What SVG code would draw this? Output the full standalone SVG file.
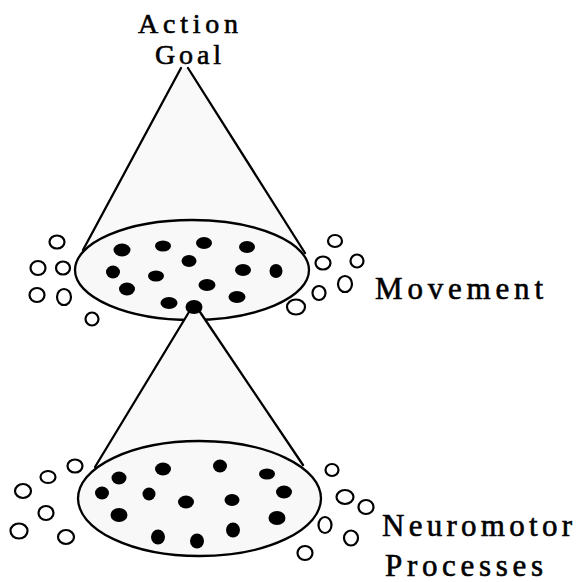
<svg xmlns="http://www.w3.org/2000/svg" width="579" height="582" viewBox="0 0 579 582">
<style>
.lbl{font-family:"Liberation Serif","Times New Roman",serif;font-size:31px;fill:#000;stroke:#000;stroke-width:0.6;}
.top{font-size:28px;}
.edge{stroke:#000;stroke-width:2.3;fill:none;stroke-linecap:round;}
.cone{fill:#f9f9f9;stroke:none;}
.plate{fill:#f8f8f8;stroke:#000;stroke-width:2.3;}
.dot{fill:#000;}
.ring{fill:#fff;stroke:#000;stroke-width:2.2;}
</style>
<rect width="579" height="582" fill="#fff"/>
<g id="action-goal">
<text class="lbl top" x="188" y="33" text-anchor="middle" textLength="100" lengthAdjust="spacing">Action</text>
<text class="lbl top" x="188" y="64" text-anchor="middle" textLength="66" lengthAdjust="spacing">Goal</text>
</g>
<g id="connectors">
<polygon class="cone" points="181,68 188,68 305,253 83,250"/>
<line class="edge" x1="181" y1="68" x2="83" y2="250"/>
<line class="edge" x1="188" y1="68" x2="305" y2="253"/>
</g>
<g id="movement">
<ellipse class="plate" cx="192" cy="270" rx="117" ry="50"/>
<g class="dot">
<ellipse cx="122" cy="250" rx="8.5" ry="6.5"/>
<ellipse cx="163" cy="246" rx="8" ry="5.5"/>
<ellipse cx="204" cy="243" rx="8" ry="6"/>
<ellipse cx="247" cy="247" rx="8" ry="6"/>
<ellipse cx="189" cy="261" rx="7.5" ry="6"/>
<ellipse cx="113" cy="272" rx="7" ry="6.5"/>
<ellipse cx="156" cy="276" rx="8" ry="5.5"/>
<ellipse cx="243" cy="270" rx="8" ry="6"/>
<ellipse cx="276" cy="271" rx="6.5" ry="7"/>
<ellipse cx="127" cy="289" rx="8" ry="6.5"/>
<ellipse cx="207" cy="285" rx="8.5" ry="6"/>
<ellipse cx="169" cy="303" rx="8.5" ry="6"/>
<ellipse cx="237" cy="297" rx="8.5" ry="6"/>
</g>
<g class="ring">
<ellipse cx="57" cy="242" rx="7.5" ry="6.5"/>
<ellipse cx="38" cy="268" rx="7.5" ry="7"/>
<ellipse cx="63" cy="268" rx="7" ry="6.5"/>
<ellipse cx="37" cy="295" rx="7.5" ry="7"/>
<ellipse cx="64" cy="297" rx="7" ry="8"/>
<ellipse cx="92" cy="319" rx="6.5" ry="6.5"/>
<ellipse cx="335" cy="241" rx="7" ry="6"/>
<ellipse cx="323" cy="263" rx="7.5" ry="6.5"/>
<ellipse cx="357" cy="261" rx="6.5" ry="6.5"/>
<ellipse cx="345" cy="284" rx="7" ry="8"/>
<ellipse cx="319" cy="293" rx="6.5" ry="7"/>
<ellipse cx="296" cy="307" rx="9" ry="7.5"/>
</g>
<text class="lbl" x="375" y="299" textLength="168" lengthAdjust="spacing">Movement</text>
</g>
<g id="connectors-2">
<polygon class="cone" points="189,313 201,313 303,465 95,467"/>
<line class="edge" x1="189" y1="312" x2="95" y2="467"/>
<line class="edge" x1="200" y1="312" x2="303" y2="465"/>
<ellipse class="dot" cx="194" cy="307" rx="8.5" ry="7"/>
</g>
<g id="neuromotor">
<ellipse class="plate" cx="199.5" cy="498.5" rx="121.5" ry="57.5"/>
<g class="dot">
<ellipse cx="119" cy="478" rx="7.5" ry="6.5"/>
<ellipse cx="163" cy="469" rx="8" ry="6.5"/>
<ellipse cx="220" cy="466" rx="7" ry="6.5"/>
<ellipse cx="267" cy="474" rx="8" ry="5.5"/>
<ellipse cx="102" cy="493" rx="7" ry="6.5"/>
<ellipse cx="149" cy="494" rx="6.5" ry="6.5"/>
<ellipse cx="186" cy="502" rx="8" ry="6.5"/>
<ellipse cx="232" cy="500" rx="7.5" ry="6"/>
<ellipse cx="284" cy="492" rx="8" ry="6.5"/>
<ellipse cx="119" cy="515" rx="8.5" ry="7"/>
<ellipse cx="277" cy="518" rx="8.5" ry="7"/>
<ellipse cx="158" cy="537" rx="7" ry="7.5"/>
<ellipse cx="197" cy="541" rx="7" ry="7.5"/>
<ellipse cx="233" cy="530" rx="7" ry="7.5"/>
</g>
<g class="ring">
<ellipse cx="75" cy="466" rx="7.5" ry="6.5"/>
<ellipse cx="48" cy="477" rx="7.5" ry="6"/>
<ellipse cx="23" cy="491" rx="8" ry="7"/>
<ellipse cx="46" cy="513" rx="7.5" ry="7"/>
<ellipse cx="19" cy="531" rx="8.5" ry="7.5"/>
<ellipse cx="66" cy="537" rx="8" ry="7"/>
<ellipse cx="332" cy="470" rx="6.5" ry="6"/>
<ellipse cx="345" cy="497" rx="8.5" ry="7"/>
<ellipse cx="366" cy="507" rx="7.5" ry="7"/>
<ellipse cx="325" cy="525" rx="6.5" ry="8"/>
<ellipse cx="351" cy="538" rx="7" ry="7.5"/>
<ellipse cx="305" cy="553" rx="7.5" ry="7"/>
</g>
<text class="lbl" x="382" y="536" textLength="190" lengthAdjust="spacing">Neuromotor</text>
<text class="lbl" x="385" y="576" textLength="158" lengthAdjust="spacing">Processes</text>
</g>
</svg>
